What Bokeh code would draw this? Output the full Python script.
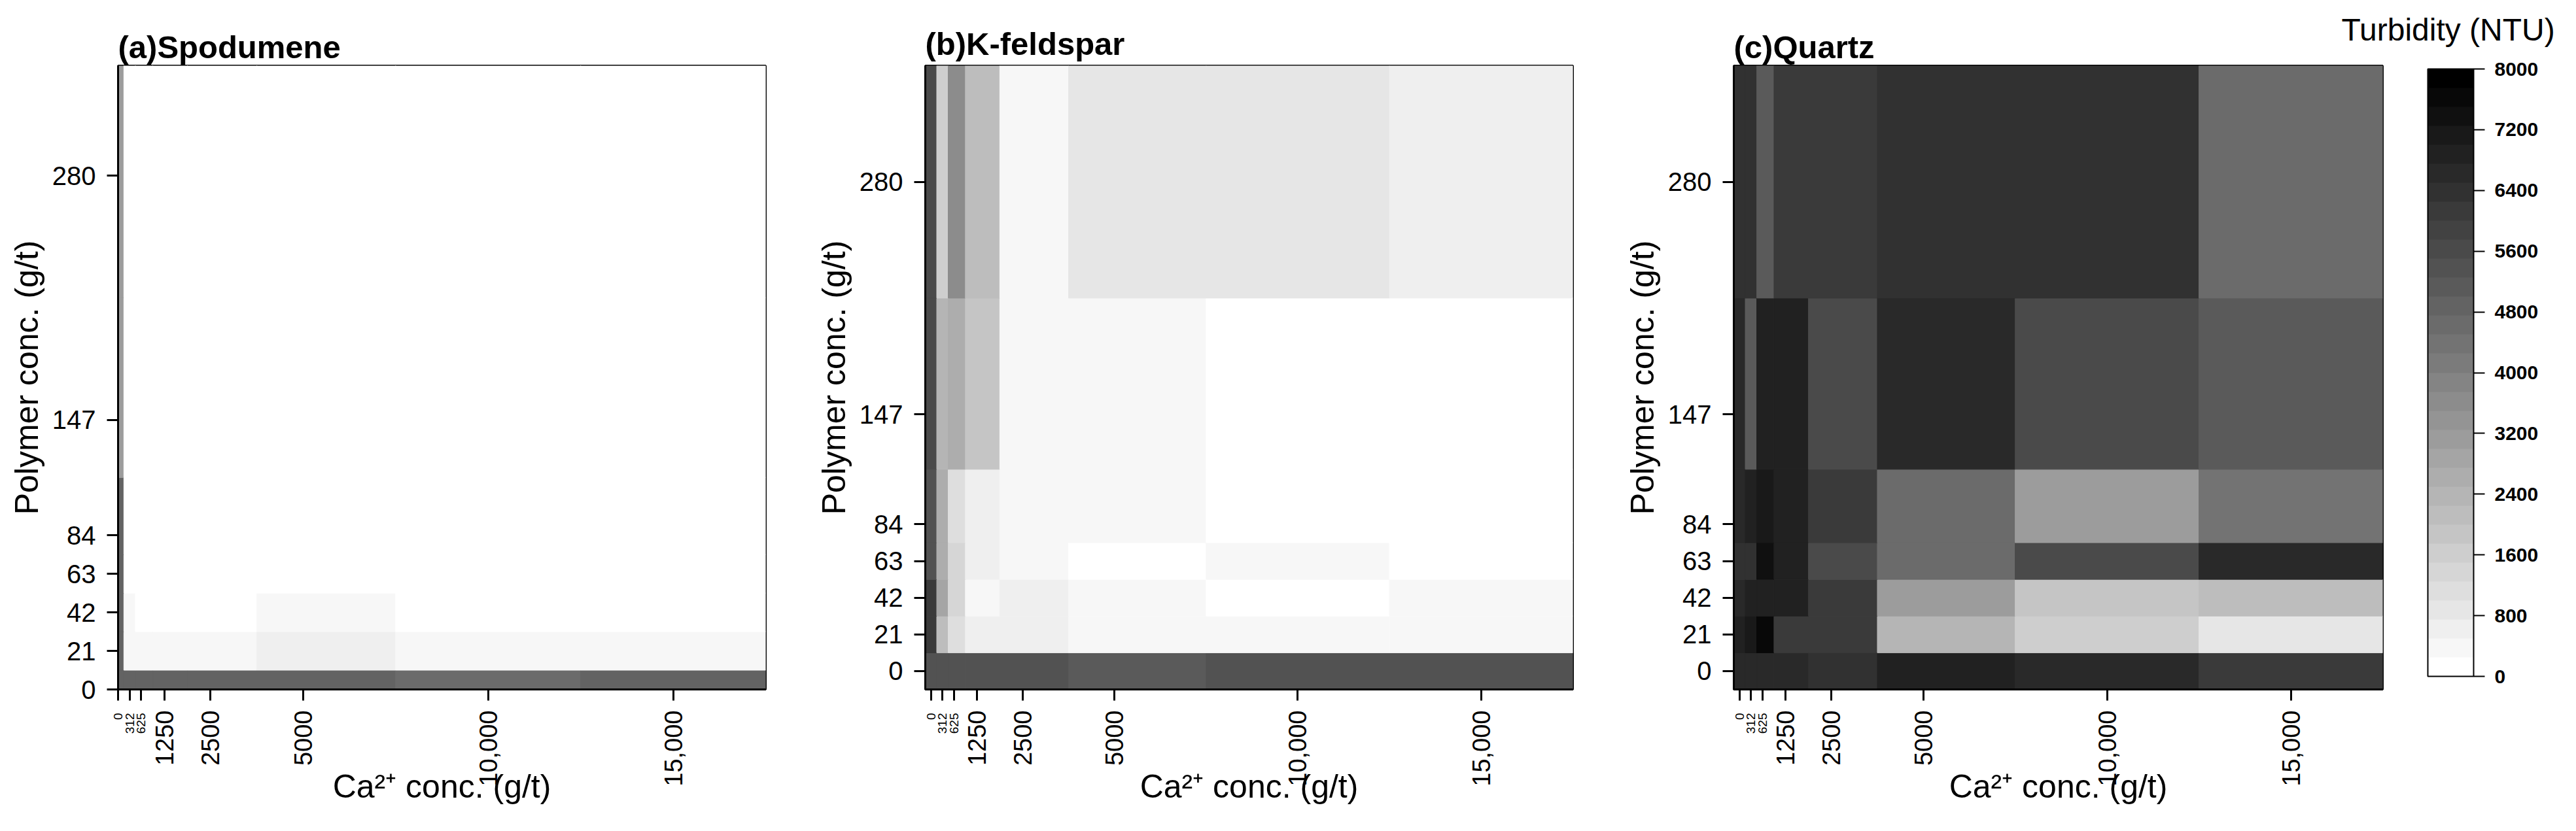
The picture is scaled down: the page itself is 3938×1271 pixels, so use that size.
import math
import numpy as np
from bokeh.plotting import figure
from bokeh.layouts import row
from bokeh.models import (LinearColorMapper, ColorBar, FixedTicker, ColumnDataSource,
                          LinearAxis, Range1d, Title)
from bokeh.embed import file_html
from bokeh.resources import INLINE

# ---------------- data ----------------
ca_conc = [0, 312, 625, 1250, 2500, 5000, 10000, 15000]
ca_tick_labels = ["0", "312", "625", "1250", "2500", "5000", "10,000", "15,000"]
ca_small_label = [True, True, True, False, False, False, False, False]
polymer_conc = [0, 21, 42, 63, 84, 147, 280]
polymer_tick_labels = ["0", "21", "42", "63", "84", "147", "280"]

# turbidity (NTU); rows = polymer conc 0..280, columns = Ca conc 0..15000
spodumene = [
    [4800, 4800, 4800, 4800, 4800, 4800, 4600, 4800],
    [4850, 375, 375, 375, 375, 600, 375, 375],
    [4850, 400, 100, 100, 100, 400, 100, 100],
    [4850, 100, 100, 100, 100, 100, 100, 100],
    [4850, 100, 100, 100, 100, 100, 100, 100],
    [3100, 100, 100, 100, 100, 100, 100, 100],
    [3100, 100, 100, 100, 100, 100, 100, 100],
]
kfeldspar = [
    [5350, 5350, 5350, 5350, 5350, 5100, 5300, 5300],
    [6100, 2100, 1100, 600, 600, 375, 375, 375],
    [6100, 2850, 1300, 300, 600, 375, 100, 375],
    [5350, 2550, 1350, 600, 375, 100, 375, 100],
    [5350, 2550, 1100, 600, 375, 375, 100, 100],
    [5700, 2350, 2600, 1850, 375, 375, 100, 100],
    [5625, 1625, 3625, 2125, 375, 900, 850, 625],
]
quartz = [
    [6550, 6550, 6550, 6550, 6300, 6850, 6600, 6100],
    [6800, 7050, 7600, 6050, 6050, 2350, 1550, 850],
    [6600, 6850, 6850, 6850, 6100, 3100, 1800, 2100],
    [6300, 6300, 7350, 6850, 5600, 4600, 5500, 6550],
    [6600, 6850, 7100, 6850, 6100, 4600, 3100, 4350],
    [6600, 5100, 6850, 6850, 5600, 6550, 5500, 5000],
    [6375, 6375, 5100, 6100, 6100, 6300, 6300, 4600],
]
cbar_ticks = [0, 800, 1600, 2400, 3200, 4000, 4800, 5600, 6400, 7200, 8000]
cbar_low, cbar_high, n_bands = 0, 8000, 32

# ---------------- styling ----------------
FONT = "Liberation Sans"
grays = [int(round(255 * (1 - i / (n_bands - 1)))) for i in range(n_bands)]
palette = ["#%02x%02x%02x" % (g, g, g) for g in grays]
mapper = LinearColorMapper(palette=palette, low=cbar_low, high=cbar_high)

PAGE_H = 1271
FRAME_H = 954


def edges(v):
    v = np.asarray(v, float)
    mids = (v[:-1] + v[1:]) / 2
    return np.concatenate([[v[0] - (mids[0] - v[0])], mids, [v[-1] + (v[-1] - mids[-1])]])


def make_title(text, size="49px", bold=True, offset=0, standoff=3):
    return Title(text=text, align="left", offset=offset, standoff=standoff,
                 text_font=FONT, text_font_size=size,
                 text_font_style="bold" if bold else "normal", text_color="black")


def make_panel(titles, z, xr, yr, frame_w, left, right, top):
    xe, ye = edges(ca_conc), edges(polymer_conc)
    L, R, B, T, V = [], [], [], [], []
    for i, rvals in enumerate(z):
        for j, v in enumerate(rvals):
            L.append(xe[j]); R.append(xe[j + 1]); B.append(ye[i]); T.append(ye[i + 1]); V.append(v)
    src = ColumnDataSource(dict(left=L, right=R, bottom=B, top=T, v=V))
    p = figure(frame_width=frame_w, frame_height=FRAME_H,
               x_range=Range1d(*xr), y_range=Range1d(*yr),
               output_backend="svg", toolbar_location=None, title=None,
               min_border_left=left, min_border_right=right, min_border_top=top,
               min_border_bottom=PAGE_H - top - FRAME_H)
    for t in titles:
        p.add_layout(t, "above")
    p.quad(left="left", right="right", bottom="bottom", top="top", source=src,
           fill_color={"field": "v", "transform": mapper},
           line_color={"field": "v", "transform": mapper}, line_width=1)
    p.xgrid.visible = False
    p.ygrid.visible = False
    p.outline_line_color = "black"
    p.outline_line_width = 3
    p.background_fill_color = "white"
    p.border_fill_color = "white"

    # main x axis: all ticks, big labels only
    p.xaxis.ticker = FixedTicker(ticks=ca_conc)
    p.xaxis.major_label_overrides = {c: ("" if s else lab) for c, lab, s in
                                     zip(ca_conc, ca_tick_labels, ca_small_label)}
    p.xaxis.major_label_orientation = math.pi / 2
    p.xaxis.major_label_standoff = 15
    p.xaxis.major_label_text_font_size = "38px"

    p.yaxis.ticker = FixedTicker(ticks=polymer_conc)
    p.yaxis.major_label_overrides = {c: lab for c, lab in zip(polymer_conc, polymer_tick_labels)}
    p.yaxis.axis_label = "Polymer conc. (g/t)"
    p.yaxis.major_label_standoff = 17
    p.yaxis.axis_label_standoff = 8
    p.yaxis.major_label_text_font_size = "40px"

    for ax in (p.xaxis[0], p.yaxis[0]):
        ax.axis_line_width = 3
        ax.axis_line_color = "black"
        ax.major_tick_line_width = 3
        ax.major_tick_line_color = "black"
        ax.major_tick_out = 17
        ax.major_tick_in = 0
        ax.minor_tick_line_color = None
        ax.major_label_text_font = FONT
        ax.major_label_text_color = "black"
        ax.axis_label_text_font = FONT
        ax.axis_label_text_font_size = "50px"
        ax.axis_label_text_font_style = "normal"
        ax.axis_label_text_color = "black"

    # secondary x axis carrying the small labels (0, 312, 625) and the axis title
    small_ticks = [c for c, s in zip(ca_conc, ca_small_label) if s]
    ax2 = LinearAxis(ticker=FixedTicker(ticks=small_ticks),
                     major_label_overrides={c: lab for c, lab, s in
                                            zip(ca_conc, ca_tick_labels, ca_small_label) if s},
                     axis_line_color=None, major_tick_line_color=None, minor_tick_line_color=None,
                     major_tick_out=0, major_tick_in=0,
                     major_label_orientation=math.pi / 2, major_label_standoff=-115,
                     major_label_text_font=FONT, major_label_text_font_size="19px",
                     major_label_text_color="black",
                     axis_label="Ca²⁺ conc. (g/t)", axis_label_standoff=50,
                     axis_label_text_font=FONT, axis_label_text_font_size="50px",
                     axis_label_text_font_style="normal", axis_label_text_color="black")
    p.add_layout(ax2, "below")
    return p


pa = make_panel([make_title("(a)Spodumene")], spodumene, (0, 17500), (0, 340), 990, 180, 50, 100)
pb = make_panel([make_title("(b)K-feldspar", standoff=13)], kfeldspar, (-156, 17500), (-10.5, 346.5),
                990, 194, 56, 92)
pc = make_panel([make_title("(c)Quartz"),
                 make_title("Turbidity (NTU)", size="48px", bold=False, offset=929, standoff=-61)],
                quartz, (-156, 17500), (-10.5, 346.5), 992, 190, 296, 96)

cb = ColorBar(color_mapper=mapper, ticker=FixedTicker(ticks=cbar_ticks), width=70, height=929,
              location=(69, 20), padding=0, margin=0,
              major_tick_out=17, major_tick_in=0, major_tick_line_color="black",
              major_tick_line_width=2, minor_tick_line_color=None,
              bar_line_color="black", bar_line_width=2, label_standoff=15,
              major_label_text_font=FONT, major_label_text_font_size="30px",
              major_label_text_font_style="bold", major_label_text_color="black",
              border_line_color=None, background_fill_color=None)
pc.add_layout(cb, "right")

layout = row(pa, pb, pc)
open("out.html", "w").write(file_html(layout, INLINE))
